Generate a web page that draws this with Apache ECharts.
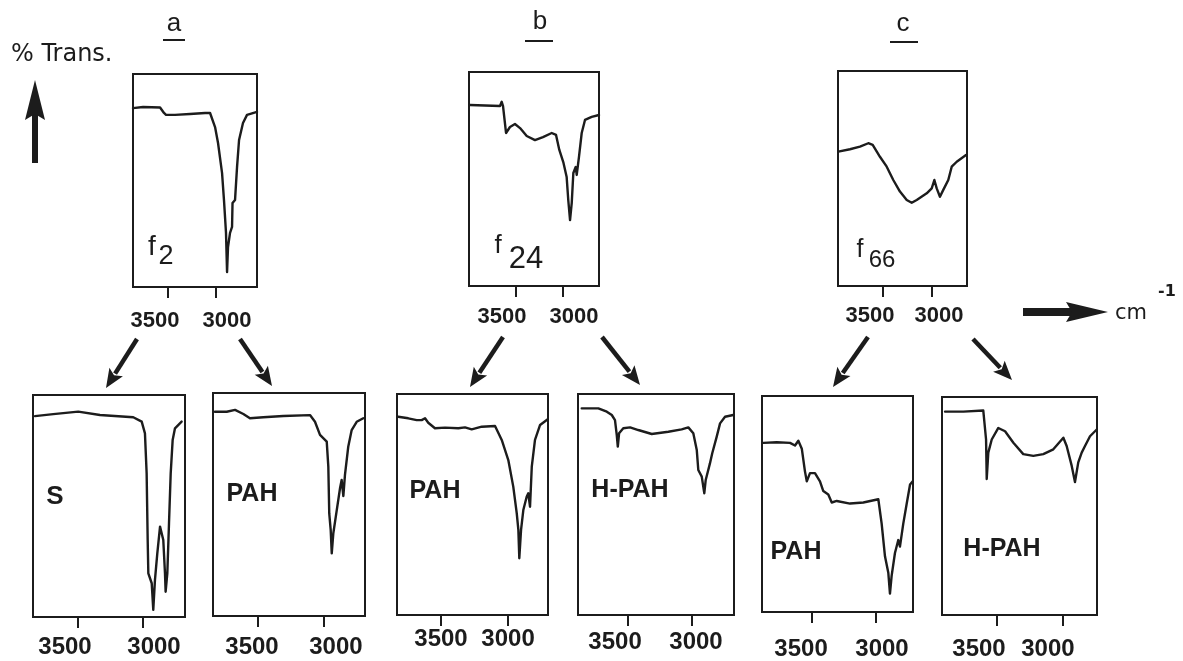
<!DOCTYPE html>
<html>
<head>
<meta charset="utf-8">
<script src="https://cdn.jsdelivr.net/npm/echarts@6/dist/echarts.min.js"></script>
<style>
html,body{margin:0;padding:0;background:#fff;}
#chart{width:1183px;height:661px;}
</style>
</head>
<body>
<div id="chart"></div>
<script>
// ---- tick labels (cm-1) ----
const tickValues = [3500, 3000];

// ---- spectra: wavenumber (cm-1) and % transmission (0-100 of panel height) ----
// top row: fractions f2, f24, f66
const f2Wn  = [3865,3760,3583,3542,3521,3427,3271,3114,3062,3010,2979,2937,2917,2896,2885,2875,2854,2833,2828,2802,2781,2760,2719,2677,2573];
const f2T   = [84,84.5,84.3,81.7,80.8,80.8,81.2,81.7,81.7,75.1,67.6,53.5,40.8,25.4,7,18.8,25.4,28.2,39.4,40.8,56.3,69,77,80.8,82.2];

const f24Wn = [3989,3670,3652,3638,3606,3564,3511,3457,3386,3298,3213,3120,3074,3039,2997,2961,2944,2925,2907,2890,2865,2854,2830,2801,2766,2695,2617];
const f24T  = [84.6,84.1,86.1,84.1,71.5,74.3,75.7,73.8,70.1,68.2,69.6,71.5,70.6,63.6,57.9,50.9,40.2,30.8,38.8,52.8,55.6,51.9,60.3,71.5,77.6,79,79.9];

const f66Wn = [3956,3837,3735,3650,3605,3531,3462,3395,3327,3258,3207,3156,3054,3003,2976,2952,2919,2885,2834,2799,2748,2653];
const f66T  = [62.5,63.6,64.8,66.4,65.6,60.1,55.5,49.3,43.9,40,38.7,40,43.1,45.4,49.3,45.4,41.5,44.7,49.3,55.5,57.8,60.9];

// bottom row: sub-fractions
const aSWn   = [3831,3690,3498,3331,3075,3010,2985,2972,2964,2959,2933,2921,2908,2890,2869,2844,2831,2826,2813,2800,2787,2772,2754,2703];
const aST    = [90.5,91.4,92.5,91,90,88,82.7,64.7,34.7,19.7,15.2,3.2,16.7,28.7,40.7,34.7,19.7,11.4,19.7,42.2,64.7,79.7,85,88];

const aPahWn = [3826,3737,3674,3611,3561,3460,3308,3106,3068,3030,2979,2967,2960,2949,2941,2929,2903,2878,2866,2853,2841,2816,2790,2752,2702];
const aPahT  = [91.6,91.6,92.4,90.6,88.7,89.1,89.7,90.1,87.1,81.2,78.2,67,46,38.6,28.1,37.1,47.5,57.4,61,53.8,63.2,75.9,83.4,87.1,88.7];

const bPahWn = [3819,3744,3681,3644,3619,3595,3545,3470,3371,3321,3271,3196,3097,3047,2998,2961,2935,2923,2916,2903,2886,2861,2849,2836,2823,2799,2761,2704];
const bPahT  = [89.7,89,88.2,88.2,89,87,84.5,84.8,84.5,84.9,84,85.2,85.5,79.2,70.1,58.1,46,38.5,25.7,38.5,47.5,53.5,55.1,49,67.1,79.2,86,88.6];

const bHPahWn = [3862,3732,3666,3627,3602,3588,3580,3570,3537,3484,3420,3315,3185,3081,3029,2990,2963,2951,2924,2904,2893,2860,2842,2807,2781,2742,2678];
const bHPahT  = [93.5,93.5,92,90.5,88.2,81.4,76.2,82.2,84.5,84.9,83.7,81.9,82.9,84,84.9,82.2,74.7,65.6,62.6,55.1,61.1,68.6,73.2,80.7,86.7,89.7,90.5];

const cPahWn = [3880,3776,3672,3633,3607,3580,3555,3541,3516,3477,3438,3412,3373,3346,3307,3203,3099,2982,2956,2930,2904,2891,2878,2852,2826,2813,2787,2761,2734,2713];
const cPahT  = [78.3,78.6,78.3,77.1,79.3,75.6,65,60.5,64.3,64.3,60.5,56,54.4,50.7,51.4,50.2,50.7,52.2,40.9,25.8,18.2,8.5,16.7,27.3,33.3,30.3,40.9,49.9,59,60.5];

const cHPahWn = [3894,3755,3604,3591,3583,3578,3566,3540,3490,3439,3376,3301,3225,3149,3073,2997,2972,2934,2909,2884,2858,2833,2795,2744];
const cHPahT  = [93.3,93.3,93.8,93.8,80.5,62.4,74.5,80.5,85.8,84.3,79,73.8,73,73.8,76,81.3,77.5,68.5,61,70,74.5,77.5,82,85.1];

// panel names
const panelNames = ['f2','f24','f66','S','PAH','PAH','H-PAH','PAH','H-PAH'];
const groupNames = ['a','b','c'];

// ---- layout (positions / sizes / styles) ----
const topFont = {fontFamily:'"Liberation Sans", Arial, sans-serif', fontWeight:'bold', fontSize:22};
const botFont = {fontFamily:'"Liberation Sans Narrow", "Liberation Sans", Arial, sans-serif', fontWeight:'bold', fontSize:24};
// shift: horizontal offset (px) of each tick label from its tick, as printed
const panels = [
  {wn:f2Wn,  t:f2T,  left:133, top:74,  width:124, height:213, min:2573, max:3865, margin:23, font:topFont, shift:[-13, 11]},
  {wn:f24Wn, t:f24T, left:469, top:72,  width:130, height:214, min:2617, max:4000, margin:20, font:topFont, shift:[-14, 11]},
  {wn:f66Wn, t:f66T, left:838, top:71,  width:129, height:215, min:2643, max:3959, margin:19, font:topFont, shift:[-13, 7]},
  {wn:aSWn,  t:aST,  left:33,  top:395, width:152, height:222, min:2677, max:3846, margin:18, font:botFont, shift:[-13, 11]},
  {wn:aPahWn,t:aPahT,left:213, top:393, width:152, height:223, min:2689, max:3841, margin:19, font:botFont, shift:[-6, 12]},
  {wn:bPahWn,t:bPahT,left:397, top:394, width:151, height:221, min:2702, max:3828, margin:12, font:botFont, shift:[0, 0]},
  {wn:bHPahWn,t:bHPahT,left:578,top:394, width:156, height:221, min:2672, max:3891, margin:15, font:botFont, shift:[-13, 4]},
  {wn:cPahWn,t:cPahT,left:762, top:396, width:151, height:221, min:2711, max:3891, margin:25, font:botFont, shift:[-11, 6]},
  {wn:cHPahWn,t:cHPahT,left:942,top:397, width:155, height:221, min:2742, max:3917, margin:22, font:botFont, shift:[-18, -15]}
];

const ink = '#1c1c1c';
const grids = [], xAxes = [], yAxes = [], series = [];
function padFor(s) { return s >= 0 ? [0, 0, 0, 2 * s] : [0, -2 * s, 0, 0]; }
panels.forEach((p, i) => {
  grids.push({left:p.left, top:p.top, width:p.width, height:p.height, show:true,
    borderColor:ink, borderWidth:2, backgroundColor:'transparent', containLabel:false});
  const axisIdx = xAxes.length;
  // one x axis per tick value, sharing the same scale, so each label keeps its printed offset
  tickValues.forEach((tv, j) => {
    xAxes.push({gridIndex:i, type:'value', inverse:true, min:p.min, max:p.max, position:'bottom', offset:0,
      axisLine:{show:j === 0, lineStyle:{color:ink, width:2}},
      axisTick:{show:true, inside:false, length:11, customValues:[tv], lineStyle:{color:ink, width:2}},
      axisLabel:{show:true, customValues:[tv], margin:p.margin, color:ink, hideOverlap:false,
        padding:padFor(p.shift[j]), formatter:(v) => String(v),
        fontFamily:p.font.fontFamily, fontWeight:p.font.fontWeight, fontSize:p.font.fontSize},
      splitLine:{show:false}, minorTick:{show:false}});
  });
  yAxes.push({gridIndex:i, type:'value', min:0, max:100, show:false, splitLine:{show:false}});
  series.push({type:'line', name:panelNames[i], xAxisIndex:axisIdx, yAxisIndex:i,
    data:p.wn.map((w, k) => [w, p.t[k]]), symbol:'none', showSymbol:false,
    lineStyle:{color:ink, width:2.4, join:'round', cap:'round'}, silent:true, animation:false, clip:true});
});

// ---- decorations ----
function arrow(x1, y1, x2, y2, w, headLen, headHalf) {
  const dx = x2 - x1, dy = y2 - y1, L = Math.hypot(dx, dy);
  const ux = dx / L, uy = dy / L, nx = -uy, ny = ux;
  const bx = x2 - ux * headLen, by = y2 - uy * headLen;
  return [
    {type:'line', shape:{x1:x1, y1:y1, x2:bx + ux * 2, y2:by + uy * 2}, style:{stroke:ink, lineWidth:w}},
    {type:'polygon', shape:{points:[[x2, y2], [bx + nx * headHalf, by + ny * headHalf], [bx + ux * 4, by + uy * 4], [bx - nx * headHalf, by - ny * headHalf]]},
      style:{fill:ink}}
  ];
}
function txt(x, y, s, font, size, weight, align) {
  return {type:'text', x:x, y:y, style:{text:s, fontFamily:font, fontSize:size, fontWeight:weight || 'normal',
    fill:ink, align:align || 'center', verticalAlign:'middle'}};
}
const sans = '"Liberation Sans", Arial, sans-serif';
const dj = '"DejaVu Sans", sans-serif';
const narrow = '"Liberation Sans Narrow", "Liberation Sans", Arial, sans-serif';

const graphic = [
  // group titles
  txt(174, 24, groupNames[0], sans, 26), {type:'line', shape:{x1:163, y1:40, x2:185, y2:40}, style:{stroke:ink, lineWidth:2}},
  txt(540, 22, groupNames[1], sans, 26), {type:'line', shape:{x1:525, y1:41, x2:553, y2:41}, style:{stroke:ink, lineWidth:2}},
  txt(903, 24, groupNames[2], sans, 26), {type:'line', shape:{x1:890, y1:42, x2:918, y2:42}, style:{stroke:ink, lineWidth:2}},
  // y-axis meaning
  txt(11, 55, '% Trans.', dj, 24, 'normal', 'left'),
  {type:'rect', shape:{x:32, y:112, width:6, height:51}, style:{fill:ink}},
  {type:'polygon', shape:{points:[[35,80],[45,120],[35,114],[25,120]]}, style:{fill:ink}},
  // x-axis meaning
  {type:'rect', shape:{x:1023, y:308, width:52, height:8}, style:{fill:ink}},
  {type:'polygon', shape:{points:[[1108,312],[1066,302],[1072,312],[1066,322]]}, style:{fill:ink}},
  txt(1115, 314, 'cm', dj, 21, 'normal', 'left'),
  txt(1158, 292, '-1', dj, 16, 'bold', 'left'),
  // fraction labels
  txt(152, 247, 'f', sans, 28), txt(166, 257, '2', sans, 27),
  txt(498, 246, 'f', sans, 26), txt(526, 259, '24', sans, 31),
  txt(860, 250, 'f', sans, 25), txt(882, 260, '66', sans, 24),
  // sub-fraction labels
  txt(55, 497, panelNames[3], narrow, 26, 'bold'),
  txt(252, 494, panelNames[4], narrow, 25, 'bold'),
  txt(435, 491, panelNames[5], narrow, 25, 'bold'),
  txt(630, 490, panelNames[6], narrow, 25, 'bold'),
  txt(796, 552, panelNames[7], narrow, 25, 'bold'),
  txt(1002, 549, panelNames[8], narrow, 25, 'bold')
].concat(
  arrow(137, 339, 106, 388, 4.5, 19, 8),
  arrow(240, 339, 272, 386, 4.5, 19, 8),
  arrow(503, 337, 470, 387, 4.5, 19, 8),
  arrow(602, 337, 640, 385, 4.5, 19, 8),
  arrow(868, 337, 833, 387, 4.5, 19, 8),
  arrow(973, 339, 1012, 380, 4.5, 19, 8)
);

const chart = echarts.init(document.getElementById('chart'), null, {renderer:'canvas'});
chart.setOption({
  backgroundColor:'#ffffff',
  animation:false,
  grid:grids, xAxis:xAxes, yAxis:yAxes, series:series,
  graphic:graphic
});
</script>
</body>
</html>
